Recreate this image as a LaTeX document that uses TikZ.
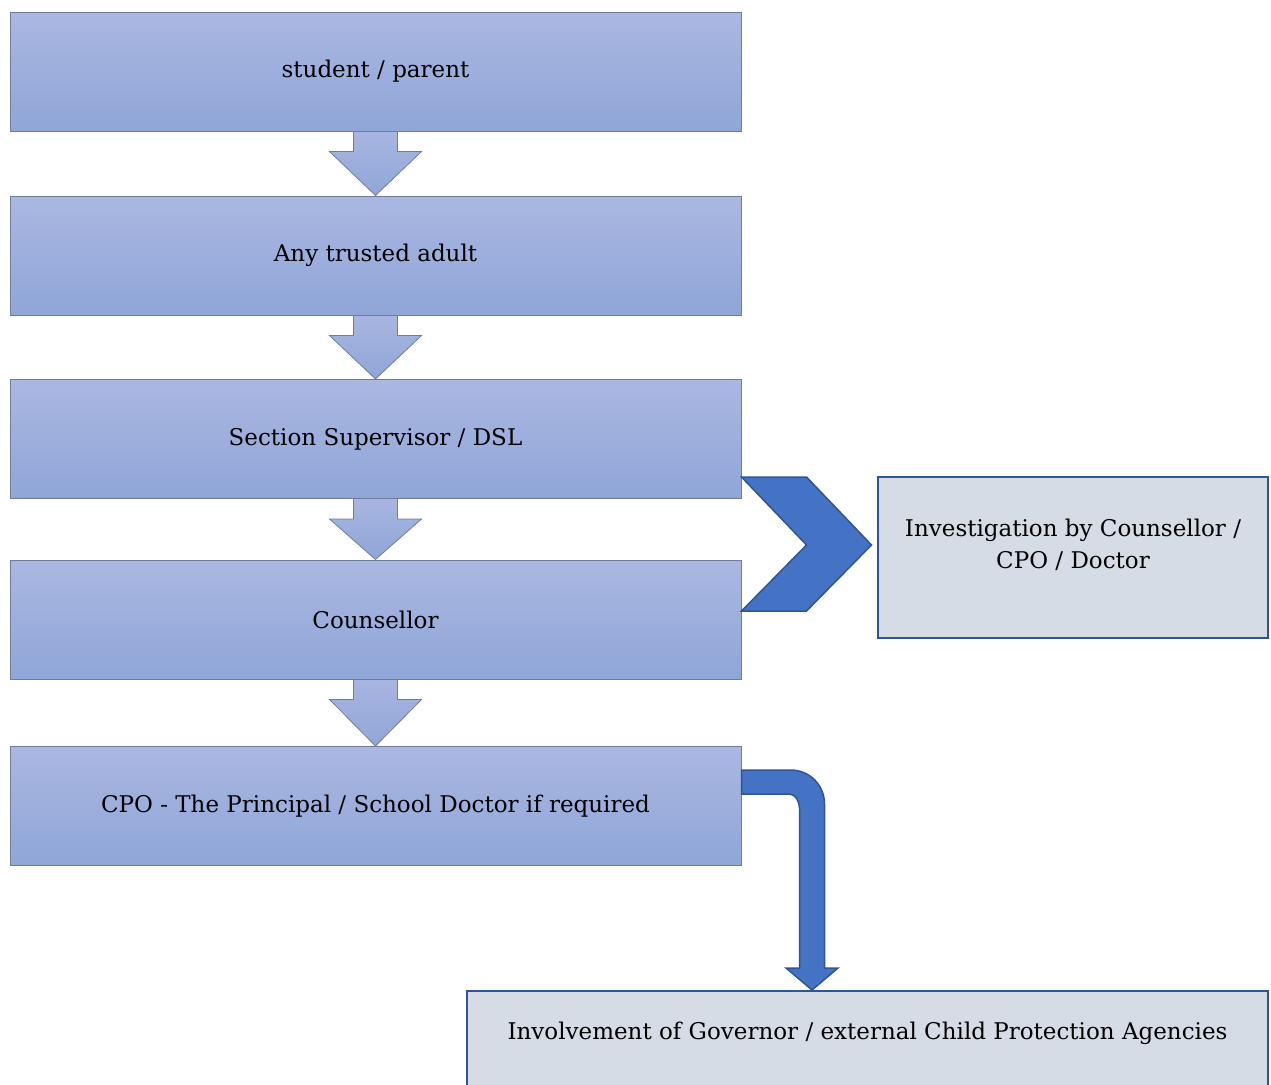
\documentclass[tikz,border=0pt]{standalone}
\usepackage{fontspec}
\setmainfont{DejaVu Serif}
\usetikzlibrary{calc,backgrounds}

\definecolor{boxtop}{RGB}{170,183,225}
\definecolor{boxbot}{RGB}{143,166,216}
\definecolor{boxline}{RGB}{112,124,156}
\definecolor{sidefill}{RGB}{214,220,229}
\definecolor{sideline}{RGB}{47,85,151}
\definecolor{bluefill}{RGB}{68,114,196}

\tikzset{
  flowbox/.style={draw=boxline,line width=1pt,top color=boxtop,bottom color=boxbot,
    minimum width=731pt,minimum height=119pt,inner sep=0pt},
  sidebox/.style={draw=sideline,line width=2pt,fill=sidefill,inner sep=0pt},
  sidetext/.style={align=center,inner sep=0pt},
  downarrow/.style={draw=boxline,line width=0.8pt,top color=boxtop,bottom color=boxbot},
  bluearrow/.style={draw=sideline,line width=1.5pt,fill=bluefill,line join=miter}
}

% block arrow from one box down to the next
\newcommand{\flowarrow}[2]{%
  \path[downarrow] ($(#1.south)+(-22,-6)$) -- ($(#1.south)+(-22,20)$)
    -- ($(#1.south)+(-46,20)$) -- (#2.north) -- ($(#1.south)+(46,20)$)
    -- ($(#1.south)+(22,20)$) -- ($(#1.south)+(22,-6)$) -- cycle;}

\begin{document}
\begin{tikzpicture}[x=1pt,y=-1pt,every node/.style={font=\fontsize{23}{32}\selectfont}]
\useasboundingbox (0,0) rectangle (1271,1084);
\node[flowbox] (student) at (375.5,71.5) {student / parent};
\node[flowbox] (adult) at (375.5,255.5) {Any trusted adult};
\node[flowbox] (supervisor) at (375.5,439) {Section Supervisor / DSL};
\node[flowbox] (counsellor) at (375.5,619.5) {Counsellor};
\node[flowbox] (cpo) at (375.5,806) {CPO - The Principal / School Doctor if required};
\node[sidebox,minimum width=390pt,minimum height=161pt] (investigation) at (1073,557.5) {};
\node[sidetext,anchor=north] (invtext) at ($(investigation.north)+(0,43)$)
  {Investigation by Counsellor /\\CPO / Doctor};
\node[sidebox,minimum width=801pt,minimum height=130pt] (governor) at (867.5,1056) {};
\node[sidetext,anchor=north] (govtext) at ($(governor.north)+(0,32)$)
  {Involvement of Governor / external Child Protection Agencies};

\begin{pgfonlayer}{background}
\flowarrow{student}{adult}
\flowarrow{adult}{supervisor}
\flowarrow{supervisor}{counsellor}
\flowarrow{counsellor}{cpo}
\end{pgfonlayer}

% chevron towards the investigation
\coordinate (chev) at ($(supervisor.south east)+(0,-22)$);
\path[bluearrow] (chev) -- ++(65,0) -- ++(65,68) -- ++(-65,66) -- ++(-65,0)
  -- ++(65,-66) -- cycle;

% bent arrow down to the governor box
\coordinate (bend) at ($(cpo.north east)+(0,24)$);
\coordinate (shaft) at ($(cpo.north east)+(70.5,0)$);
\coordinate (tip) at (shaft |- governor.north);
\path[bluearrow] (bend) -- ++(49,0) .. controls +(19,0) and +(0,-19) .. ++(34,34)
  -- ($(tip)+(12.5,-22)$) -- ($(tip)+(26,-22)$) -- (tip) -- ($(tip)+(-26,-22)$)
  -- ($(tip)+(-12.5,-22)$) -- ($(bend)+(58,38)$)
  .. controls +(0,-6) and +(6,0) .. ($(bend)+(48,24)$) -- ($(bend)+(0,24)$) -- cycle;
\end{tikzpicture}
\end{document}
